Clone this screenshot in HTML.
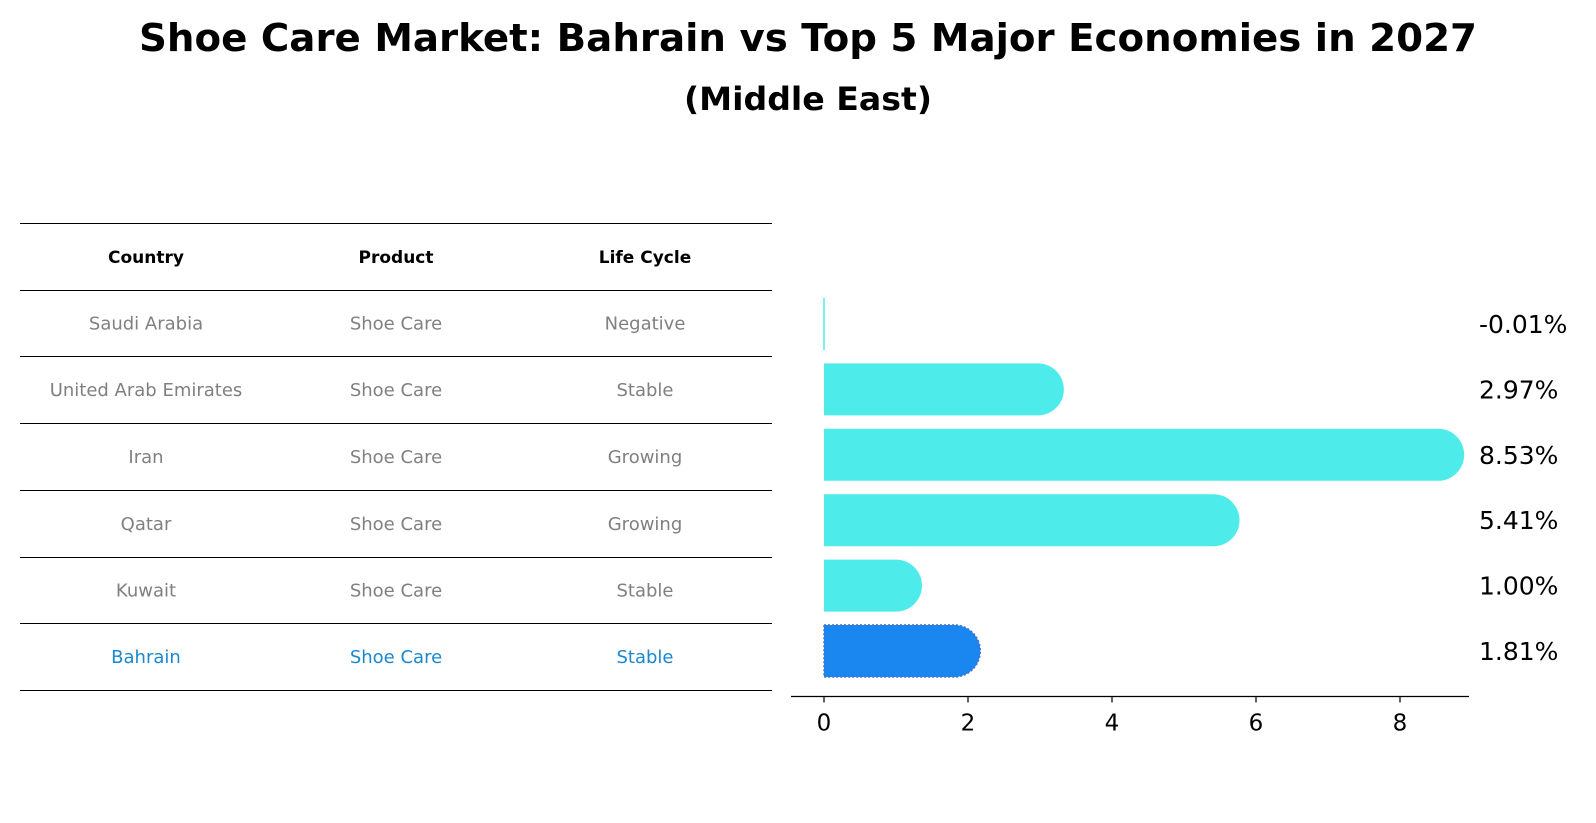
<!DOCTYPE html>
<html><head><meta charset="utf-8"><style>
body{margin:0;background:#fff;width:1596px;height:823px;overflow:hidden;font-family:"DejaVu Sans","Liberation Sans",sans-serif;}
svg{display:block}
</style></head><body>
<svg id="chart" width="1596" height="823" xmlns="http://www.w3.org/2000/svg">
<text x="808" y="51" text-anchor="middle" font-family="DejaVu Sans, Liberation Sans, sans-serif" font-weight="bold" font-size="38" textLength="1338" lengthAdjust="spacingAndGlyphs">Shoe Care Market: Bahrain vs Top 5 Major Economies in 2027</text>
<text x="808" y="110" text-anchor="middle" font-family="DejaVu Sans, Liberation Sans, sans-serif" font-weight="bold" font-size="32" textLength="248" lengthAdjust="spacingAndGlyphs">(Middle East)</text>
<g id="table"></g>
<g id="bars"></g>
</svg>
<script>
const countries=["Saudi Arabia","United Arab Emirates","Iran","Qatar","Kuwait","Bahrain"];
const products=["Shoe Care","Shoe Care","Shoe Care","Shoe Care","Shoe Care","Shoe Care"];
const lifeCycles=["Negative","Stable","Growing","Growing","Stable","Stable"];
const growth=[-0.01,2.97,8.53,5.41,1.00,1.81];
const valueLabels=["-0.01%","2.97%","8.53%","5.41%","1.00%","1.81%"];
const xTicks=[0,2,4,6,8];
const highlight="Bahrain";

const NS="http://www.w3.org/2000/svg";
function mk(tag,attrs,parent){const e=document.createElementNS(NS,tag);for(const k in attrs)e.setAttribute(k,attrs[k]);parent.appendChild(e);return e;}
const tbl=document.getElementById('table');
const lineYs=[223.5,290.5,356.5,423.5,490.5,557.5,623.5,690.5];
const colX=[146,396,645];
const FF="DejaVu Sans, Liberation Sans, sans-serif";
lineYs.forEach((y,i)=>{const l=mk('line',{x1:20,x2:772,y1:y,y2:y,stroke:'#000','stroke-width':1},tbl);

});
["Country","Product","Life Cycle"].forEach((h,j)=>{const t=mk('text',{x:colX[j],y:263,'text-anchor':'middle','font-size':17,'font-weight':'bold','font-family':FF},tbl);t.textContent=h;

});
countries.forEach((c,i)=>{const y=(lineYs[i+1]+lineYs[i+2])/2+6;const col=c===highlight?'#1a88d0':'#808080';
[c,products[i],lifeCycles[i]].forEach((v,j)=>{const t=mk('text',{x:colX[j],y:y,'text-anchor':'middle','font-size':18,fill:col,'font-family':FF},tbl);t.textContent=v;

});});

const g=document.getElementById('bars');
const x0=824,unit=72,axisY=696.5;
const xs=v=>x0+v*unit;
const yc=i=>324+i*65.4;
const bh=52;
const ax=mk('line',{x1:791,x2:1469,y1:axisY,y2:axisY,stroke:'#000','stroke-width':1.3},g);


xTicks.forEach(t=>{const tk=mk('line',{x1:xs(t),x2:xs(t),y1:axisY,y2:axisY+6,stroke:'#000','stroke-width':1.2},g);


const tl=mk('text',{x:xs(t),y:axisY+34,'text-anchor':'middle','font-size':23,'font-family':FF},g);tl.textContent=t;

});
growth.forEach((v,i)=>{const hl=countries[i]===highlight;const col=hl?'#1a86f0':'#4deceb';const cy=yc(i);
if(Math.abs(v)<0.05){const l=mk('line',{x1:x0,x2:x0,y1:cy-bh/2,y2:cy+bh/2,stroke:col,'stroke-width':1.5},g);

}
else{const p=mk('path',{d:`M${x0},${cy-bh/2} H${xs(v)} A${bh/2},${bh/2} 0 0 1 ${xs(v)},${cy+bh/2} H${x0} Z`,fill:col,stroke:hl?'#4a6fd0':'none','stroke-width':hl?1.5:0,'stroke-dasharray':hl?'2,2':''},g);

}
const t=mk('text',{x:1479,y:cy+9,'font-size':25,'font-family':FF},g);t.textContent=valueLabels[i];

});
</script>
</body></html>
